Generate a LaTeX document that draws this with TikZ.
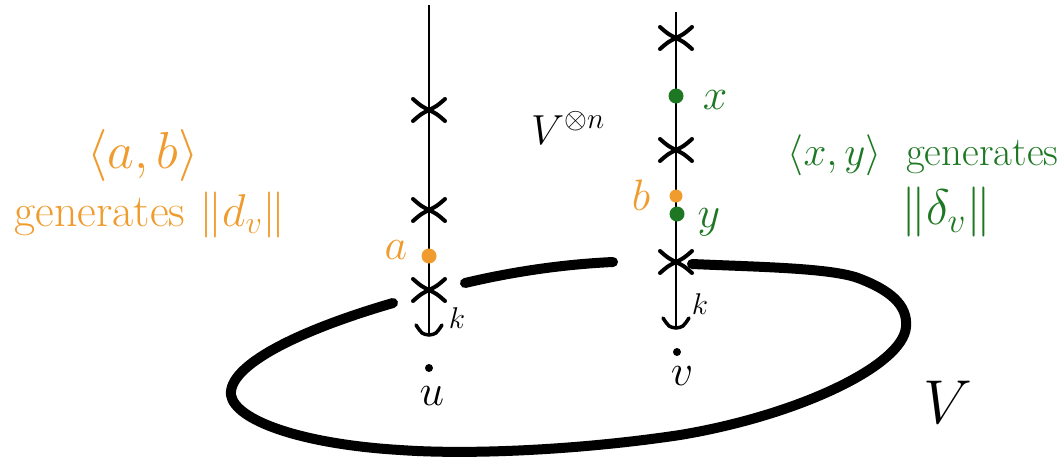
\RequirePackage{fix-cm}
\documentclass[tikz,border=0pt]{standalone}
\usepackage{amsmath, amssymb}
\usepackage{xcolor}

\definecolor{sketchorange}{RGB}{240,155,45}
\definecolor{sketchgreen}{RGB}{30,120,35}

\tikzset{
  crossmark/.pic={
    \draw[line width=4pt, line cap=round] (-16,-11) .. controls (-8,-4) .. (0,0) .. controls (-8,4) .. (-16,11);
    \draw[line width=4pt, line cap=round] (16,-11) .. controls (8,-4) .. (0,0) .. controls (8,4) .. (16,11);
  },
  tipmark/.pic={
    \draw[line width=3.5pt, line cap=round] (-13,-10) .. controls (-7,-1) .. (0,0) .. controls (7,-1) .. (13,-10);
  },
  strand/.style={line width=2pt},
  loopline/.style={line width=10pt, line cap=round},
  dot/.style={circle, fill, inner sep=0pt, minimum size=8pt},
  bigdot/.style={circle, fill, inner sep=0pt, minimum size=15pt},
  lbl/.style={font=\fontsize{44}{48}\selectfont, inner sep=0pt},
  klbl/.style={font=\fontsize{30}{34}\selectfont, inner sep=0pt}
}

\begin{document}
\begin{tikzpicture}[x=1pt, y=-1pt]
  \useasboundingbox (0,0) rectangle (1063,463);

  % the loop V, broken where the strands pass in front
  \draw[loopline] (692,264) .. controls (760,267) and (830,268) .. (858,278)
    .. controls (890,290) and (908,305) .. (906,327)
    .. controls (903,365) and (800,415) .. (680,435)
    .. controls (580,450) and (470,455) .. (400,450)
    .. controls (300,444) and (235,420) .. (231,395)
    .. controls (228,365) and (300,330) .. (393,303);
  \draw[loopline] (465,283) .. controls (520,270) and (570,264) .. (613,262);

  % strand above u
  \coordinate (utop) at (429,5);
  \coordinate (uend) at (429,335);
  \draw[strand] (utop) -- (uend);
  \pic at (uend) {tipmark};
  \foreach \y in {110,210,290}
    \pic at (429,\y) {crossmark};

  % strand above v
  \coordinate (vtop) at (676,12);
  \coordinate (vend) at (676,328);
  \draw[strand] (vtop) -- (vend);
  \pic at (vend) {tipmark};
  \foreach \y in {38,150,262}
    \pic at (676,\y) {crossmark};

  % points on the strands
  \node[bigdot, sketchorange] (a) at (429,256) {};
  \node[bigdot, sketchorange, minimum size=13pt] (b) at (676,196) {};
  \node[bigdot, sketchgreen] (x) at (676,96) {};
  \node[bigdot, sketchgreen] (y) at (677,214) {};
  \node[dot] (u) at (429,368) {};
  \node[dot] (v) at (677,352) {};

  \node[lbl, sketchorange] (alabel) at (396,250) {$a$};
  \node[lbl, sketchorange] (blabel) at (641,195) {$b$};
  \node[lbl, sketchgreen] (xlabel) at (715,100) {$x$};
  \node[lbl, sketchgreen] (ylabel) at (709,222) {$y$};
  \node[klbl] (kleft) at (457,318) {$k$};
  \node[klbl] (kright) at (700,304) {$k$};
  \node[lbl] (ulabel) at (432,396) {$u$};
  \node[lbl] (vlabel) at (682,376) {$v$};

  % texts
  \node[font=\fontsize{42}{46}\selectfont, inner sep=0pt] (power) at (568,128) {$V^{\otimes n}$};
  \node[font=\fontsize{62}{66}\selectfont, inner sep=0pt] (space) at (948,402) {$V$};

  \node[lbl, font=\fontsize{52}{56}\selectfont, sketchorange] (abgen) at (143,155) {$\langle a,b\rangle$};
  \node[lbl, font=\fontsize{46}{50}\selectfont, sketchorange] (dnorm) at (150,215) {generates $\|d_v\|$};
  \node[lbl, font=\fontsize{41}{45}\selectfont, sketchgreen] (xygen) at (923,155) {$\langle x,y\rangle$ \ generates};
  \node[lbl, font=\fontsize{50}{54}\selectfont, sketchgreen] (deltanorm) at (946,212) {$\|\delta_v\|$};
\end{tikzpicture}
\end{document}
